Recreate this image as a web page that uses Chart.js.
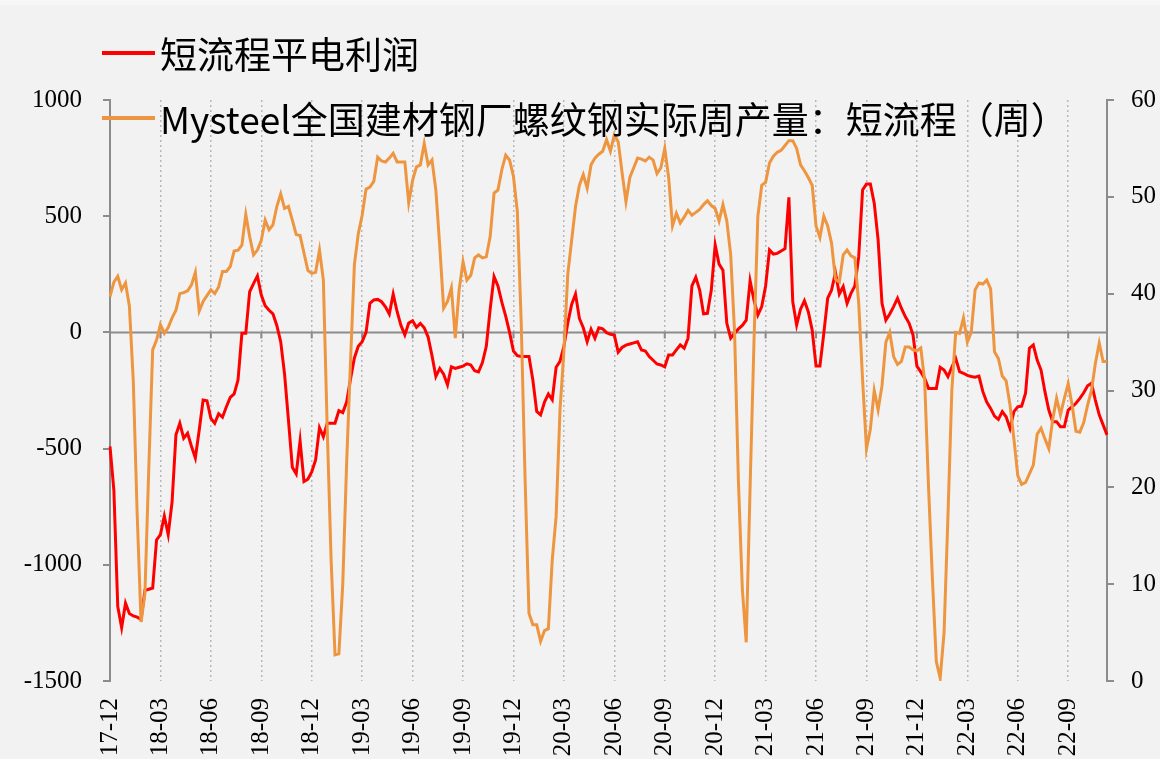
<!DOCTYPE html>
<html>
<head>
<meta charset="utf-8">
<title>短流程平电利润</title>
<script src="https://cdn.jsdelivr.net/npm/chart.js@4.4.0/dist/chart.umd.min.js"></script>
<style>
  body { margin: 0; background: #f2f2f2; }
  #wrap { position: relative; width: 1160px; height: 759px; overflow: hidden; }
  #topband { position: absolute; left: 0; top: 0; width: 1160px; height: 5px; background: #f7f7f7; }
  .lg-line { position: absolute; left: 102px; width: 53px; height: 4px; }
  .lg-text { position: absolute; left: 160px; font-family: "Noto Sans CJK SC", sans-serif; font-size: 37px; line-height: 44px; color: #000; white-space: nowrap; }
</style>
</head>
<body>
<div id="wrap">
  <div id="topband"></div>
  <canvas id="chart" width="1160" height="759"></canvas>
  <div class="lg-line" style="top:51px; background:#ff0000;"></div>
  <div class="lg-text" id="lg1" style="top:31px;"></div>
  <div class="lg-line" style="top:116px; background:#ee9540;"></div>
  <div class="lg-text" id="lg2" style="top:96px;"></div>
</div>

<script>
// ---------------- data (weekly, 2017-12 .. 2022-11) ----------------
var seriesNames = ["短流程平电利润", "Mysteel全国建材钢厂螺纹钢实际周产量：短流程（周）"];

// one label every 13 weeks
var tickLabels = ["17-12", "18-03", "18-06", "18-09", "18-12", "19-03", "19-06", "19-09", "19-12", "20-03",
                  "20-06", "20-09", "20-12", "21-03", "21-06", "21-09", "21-12", "22-03", "22-06", "22-09"];
var tickEvery = 13;

// 短流程平电利润 (left axis)
var profit = [
  -490, -680, -1180, -1270, -1165, -1210, -1220, -1225, -1235, -1110,
  -1105, -1100, -893, -870, -790, -870, -730, -441, -391, -455,
  -434, -490, -540, -420, -291, -294, -370, -391, -350, -365,
  -320, -280, -265, -205, -4, -4, 175, 210, 243, 161,
  115, 95, 80, 30, -40, -180, -377, -580, -609, -466,
  -642, -632, -600, -549, -410, -449, -391, -391, -391, -337,
  -345, -300, -200, -110, -60, -40, 0, 125, 140, 142,
  132, 110, 79, 165, 90, 30, -11, 40, 50, 22,
  39, 20, -20, -100, -190, -155, -180, -226, -148, -155,
  -150, -145, -135, -140, -165, -170, -130, -60, 100, 240,
  200, 130, 70, 0, -80, -100, -104, -104, -104, -205,
  -340, -355, -300, -265, -290, -150, -125, -60, 40, 120,
  165, 60, 20, -40, 13, -25, 20, 15, -1, -8,
  -11, -85, -65, -55, -50, -45, -40, -76, -80, -104,
  -120, -136, -140, -148, -97, -97, -75, -54, -68, -25,
  200, 237, 182, 80, 82, 182, 376, 294, 268, 39,
  -25, -4, 15, 30, 53, 222, 139, 75, 111, 200,
  355, 337, 340, 350, 360, 581, 132, 32, 100, 136,
  89, 10, -145, -145, -4, 147, 182, 257, 165, 197,
  125, 168, 200, 326, 613, 639, 639, 556, 398, 125,
  53, 79, 111, 147, 104, 68, 39, -11, -145, -170,
  -198, -241, -241, -241, -150, -162, -190, -150, -112, -169,
  -176, -185, -190, -193, -188, -255, -300, -327, -360, -374,
  -341, -363, -413, -341, -320, -317, -262, -68, -54, -119,
  -162, -255, -334, -384, -384, -406, -406, -334, -320, -305,
  -284, -260, -230, -219, -291, -355, -398, -441
];

// 螺纹钢实际周产量：短流程 (right axis)
var output = [
  39.7, 41.2, 41.8, 40.4, 41.1, 38.7, 31, 17.3, 6.1, 9,
  22, 34.2, 35.2, 36.8, 35.9, 36.5, 37.5, 38.3, 40, 40.1,
  40.3, 40.9, 42.2, 38.2, 39.2, 39.8, 40.4, 40, 40.7, 42.3,
  42.3, 42.8, 44.4, 44.5, 45, 48.2, 45.9, 44, 44.5, 45.5,
  47.6, 46.6, 47.1, 49, 50.3, 48.8, 49, 47.6, 46.1, 46,
  44.2, 42.4, 42.1, 42.2, 44.5, 41.4, 26, 12.5, 2.7, 2.8,
  10, 22.5, 33, 43, 46.2, 48.1, 50.8, 51, 51.6, 54.1,
  53.7, 53.6, 54, 54.5, 53.6, 53.6, 53.6, 49.4, 51.7, 53.1,
  53.3, 55.5, 53.3, 53.8, 50.7, 44.9, 38.5, 39.2, 40.6, 35.4,
  40.4, 43.3, 41.4, 41.9, 43.7, 44, 43.7, 43.8, 45.9, 50.4,
  50.7, 52.8, 54.3, 53.8, 52.1, 48.5, 37, 20.8, 7, 5.8,
  5.8, 4.1, 5.2, 5.4, 12.5, 17, 28, 34, 42, 45.5,
  49, 51.2, 52.3, 50.9, 53.3, 54, 54.4, 54.7, 55.9, 54.7,
  56.4, 55.7, 52.5, 49.5, 52, 53, 54, 53.9, 53.7, 54.1,
  53.8, 52.4, 53, 55, 52, 47, 48.3, 47.3, 47.9, 48.6,
  48.1, 48.4, 48.7, 49.2, 49.6, 49.1, 48.8, 47.5, 49.2, 47.5,
  44, 36, 20.5, 9.5, 4, 20, 35, 48, 51.2, 51.5,
  53.5, 54.2, 54.6, 54.8, 55.3, 55.8, 55.8, 55, 53.3, 52.7,
  52, 51.2, 47, 45.8, 48, 47, 45.2, 41.5, 41.2, 44,
  44.5, 43.9, 43.7, 39, 31.1, 24, 26, 30, 28, 30.5,
  35, 36, 33.5, 32.7, 33, 34.5, 34.5, 34.2, 34.1, 34.4,
  31, 20, 10.5, 2, 0.3, 5, 17, 30, 36, 35.9,
  37.5, 35, 36, 40.4, 41.1, 41, 41.4, 40.5, 34, 33.3,
  31.5, 31, 28.5, 25, 21.2, 20.3, 20.5, 21.4, 22.3, 25.5,
  26.1, 25, 24, 27, 29.2, 27.5, 29.2, 30.7, 28.5, 25.8,
  25.7, 26.7, 28.5, 30, 32.8, 34.9, 33, 33
];

var weeks = [];
for (var i = 0; i < profit.length; i++) weeks.push(i);

document.getElementById("lg1").textContent = seriesNames[0];
document.getElementById("lg2").textContent = seriesNames[1];

var axisGray = '#8c8c8c';
var tickFont = { family: 'Liberation Serif', size: 25 };

// zero line of the left axis with small marks under it, like the excel category axis
var zeroLine = {
  id: 'zeroLine',
  beforeDatasetsDraw: function(chart) {
    var ctx = chart.ctx, area = chart.chartArea;
    var y0 = chart.scales.y.getPixelForValue(0);
    ctx.save();
    ctx.strokeStyle = axisGray;
    ctx.lineWidth = 2;
    ctx.beginPath();
    ctx.moveTo(area.left, y0);
    ctx.lineTo(area.right, y0);
    for (var k = 0; k < tickLabels.length; k++) {
      var x = chart.scales.x.getPixelForValue(k * tickEvery);
      ctx.moveTo(x, y0);
      ctx.lineTo(x, y0 + 6);
    }
    ctx.stroke();
    ctx.restore();
  }
};

new Chart(document.getElementById("chart"), {
  type: 'line',
  data: {
    labels: weeks,
    datasets: [{
      label: seriesNames[0],
      data: profit,
      yAxisID: 'y',
      borderColor: '#ff0000',
      borderWidth: 3,
      pointRadius: 0,
      tension: 0,
      order: 2
    }, {
      label: seriesNames[1],
      data: output,
      yAxisID: 'y1',
      borderColor: '#ee9540',
      borderWidth: 3,
      pointRadius: 0,
      tension: 0,
      order: 1
    }]
  },
  options: {
    responsive: false,
    animation: false,
    layout: { padding: { top: 100, left: 0, right: 0, bottom: 0 } },
    plugins: {
      legend: { display: false },
      tooltip: { enabled: false }
    },
    scales: {
      x: {
        ticks: {
          autoSkip: false,
          minRotation: 90,
          maxRotation: 90,
          padding: 17,
          color: '#000',
          font: tickFont,
          callback: function(v, i) {
            return i % tickEvery === 0 ? tickLabels[i / tickEvery] : null;
          }
        },
        grid: { color: '#b8b8b8', lineWidth: 1.5, drawTicks: false },
        border: { display: false, dash: [2, 3] },
        afterFit: function(s) { s.height = 78; }
      },
      y: {
        position: 'left',
        min: -1500,
        max: 1000,
        ticks: {
          stepSize: 500,
          padding: 21,
          color: '#000',
          font: tickFont,
          callback: function(v) { return String(v); }
        },
        grid: { drawOnChartArea: false, drawTicks: true, tickLength: 7, color: axisGray, lineWidth: 2 },
        border: { display: true, color: axisGray, width: 2 },
        afterFit: function(s) { s.width = 110; }
      },
      y1: {
        position: 'right',
        min: 0,
        max: 60,
        ticks: {
          stepSize: 10,
          padding: 17,
          color: '#000',
          font: tickFont,
          callback: function(v) { return String(v); }
        },
        grid: { drawOnChartArea: false, drawTicks: true, tickLength: 7, color: axisGray, lineWidth: 2 },
        border: { display: true, color: axisGray, width: 2 },
        afterFit: function(s) { s.width = 53; }
      }
    }
  },
  plugins: [zeroLine]
});
</script>
</body>
</html>
